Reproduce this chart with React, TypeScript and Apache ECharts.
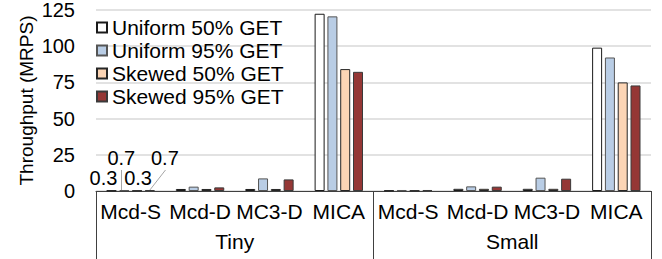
import React, { useEffect, useRef } from "react";
import * as echarts from "echarts";

const categories = ["Mcd-S", "Mcd-D", "MC3-D", "MICA", "Mcd-S", "Mcd-D", "MC3-D", "MICA"];
const groups = ["Tiny", "Small"];
const seriesNames = ["Uniform 50% GET", "Uniform 95% GET", "Skewed 50% GET", "Skewed 95% GET"];
const uniform50 = [0.3, 1.4, 1.4, 122.4, 0.3, 1.5, 1.5, 99.0];
const uniform95 = [0.7, 3.0, 8.7, 120.6, 0.7, 3.2, 9.2, 92.2];
const skewed50 = [0.3, 1.4, 1.4, 84.2, 0.3, 1.5, 1.5, 75.0];
const skewed95 = [0.7, 2.5, 8.0, 82.3, 0.7, 3.0, 8.5, 72.9];
const yTicks = { min: 0, max: 125, interval: 25 };

const fills = ["#FFFFFF", "#B9CDE5", "#FCD5B5", "#953735"];
const borders = ["#1a1a1a", "#555555", "#262626", "#3a3a3a"];
const BAR_W = 10;
const BAR_STEP = 12.8;
const labelOffsets: [number, number][] = [
  [-8, 3],
  [-3, -17],
  [1, 3],
  [15, -17],
];
const leaderSeries = [1, 3];

const FONT = "Liberation Sans, Arial, sans-serif";

export default function App() {
  const ref = useRef<HTMLDivElement>(null);
  useEffect(() => {
    if (!ref.current) return;
    const chart = echarts.init(ref.current, undefined, { renderer: "svg" });
    const allData = [uniform50, uniform95, skewed50, skewed95];
    const series: any[] = allData.map((vals, si) => ({
      name: seriesNames[si],
      type: "bar",
      xAxisIndex: 0,
      barWidth: BAR_W,
      barGap: "28%",
      itemStyle: { color: fills[si], borderColor: borders[si], borderWidth: 1 },
      data: vals.map((v, i) =>
        i === 0
          ? {
              value: v,
              label: {
                show: true,
                position: "top",
                fontSize: 20,
                fontFamily: FONT,
                color: "#000",
                formatter: "{c}",
              },
            }
          : v
      ),
      labelLayout: () => ({ dx: labelOffsets[si][0], dy: labelOffsets[si][1] }),
    }));
    chart.setOption({
      animation: false,
      textStyle: { fontFamily: FONT },
      grid: { left: 96, right: 11, top: 9, bottom: 68 },
      legend: {
        orient: "vertical",
        left: 96,
        top: 17,
        padding: 0,
        itemGap: 2,
        itemWidth: 10,
        itemHeight: 10,
        icon: "rect",
        data: seriesNames,
        textStyle: { fontSize: 21, color: "#000", fontFamily: FONT },
      },
      xAxis: [
        {
          type: "category",
          data: categories,
          position: "bottom",
          axisLine: { show: true, lineStyle: { color: "#404040", width: 1 } },
          axisTick: { show: false },
          axisLabel: { fontSize: 21, color: "#000", margin: 10, interval: 0, fontFamily: FONT },
        },
        {
          type: "category",
          data: groups,
          position: "bottom",
          axisLine: { show: false },
          axisTick: { show: true, length: 68, lineStyle: { color: "#404040", width: 1 } },
          axisLabel: { fontSize: 21, color: "#000", margin: 40, fontFamily: FONT },
        },
      ],
      yAxis: {
        type: "value",
        min: yTicks.min,
        max: yTicks.max,
        interval: yTicks.interval,
        name: "Throughput (MRPS)",
        nameLocation: "middle",
        nameGap: 60,
        nameMoveOverlap: false,
        nameTextStyle: { fontSize: 19, color: "#000", fontFamily: FONT },
        axisLine: { show: false },
        axisTick: { show: false },
        axisLabel: { fontSize: 20, color: "#000", margin: 21, fontFamily: FONT },
        splitLine: { lineStyle: { color: "#D9D9D9", width: 1.5 } },
      },
      series,
    });
    // leader lines for the moved labels, positioned from the data through the axes
    const lines = leaderSeries.map((si) => {
      const p = chart.convertToPixel({ xAxisIndex: 0, yAxisIndex: 0 }, [0, allData[si][0]]) as number[];
      const barX = p[0] + (si - 1.5) * BAR_STEP;
      const labelX = Math.round(barX + labelOffsets[si][0]) + 0.5;
      const labelBottom = p[1] - 5 + labelOffsets[si][1] + 2;
      const endX = si === 1 ? labelX : barX;
      return {
        type: "line",
        silent: true,
        z: 100,
        shape: { x1: labelX, y1: labelBottom, x2: endX, y2: p[1] },
        style: { stroke: "#a6a6a6", lineWidth: 1 },
      };
    });
    chart.setOption({ graphic: lines });
    return () => chart.dispose();
  }, []);
  return (
    <div
      ref={ref}
      style={{ position: "fixed", left: 0, top: 0, width: 662, height: 259, background: "#fff" }}
    />
  );
}
